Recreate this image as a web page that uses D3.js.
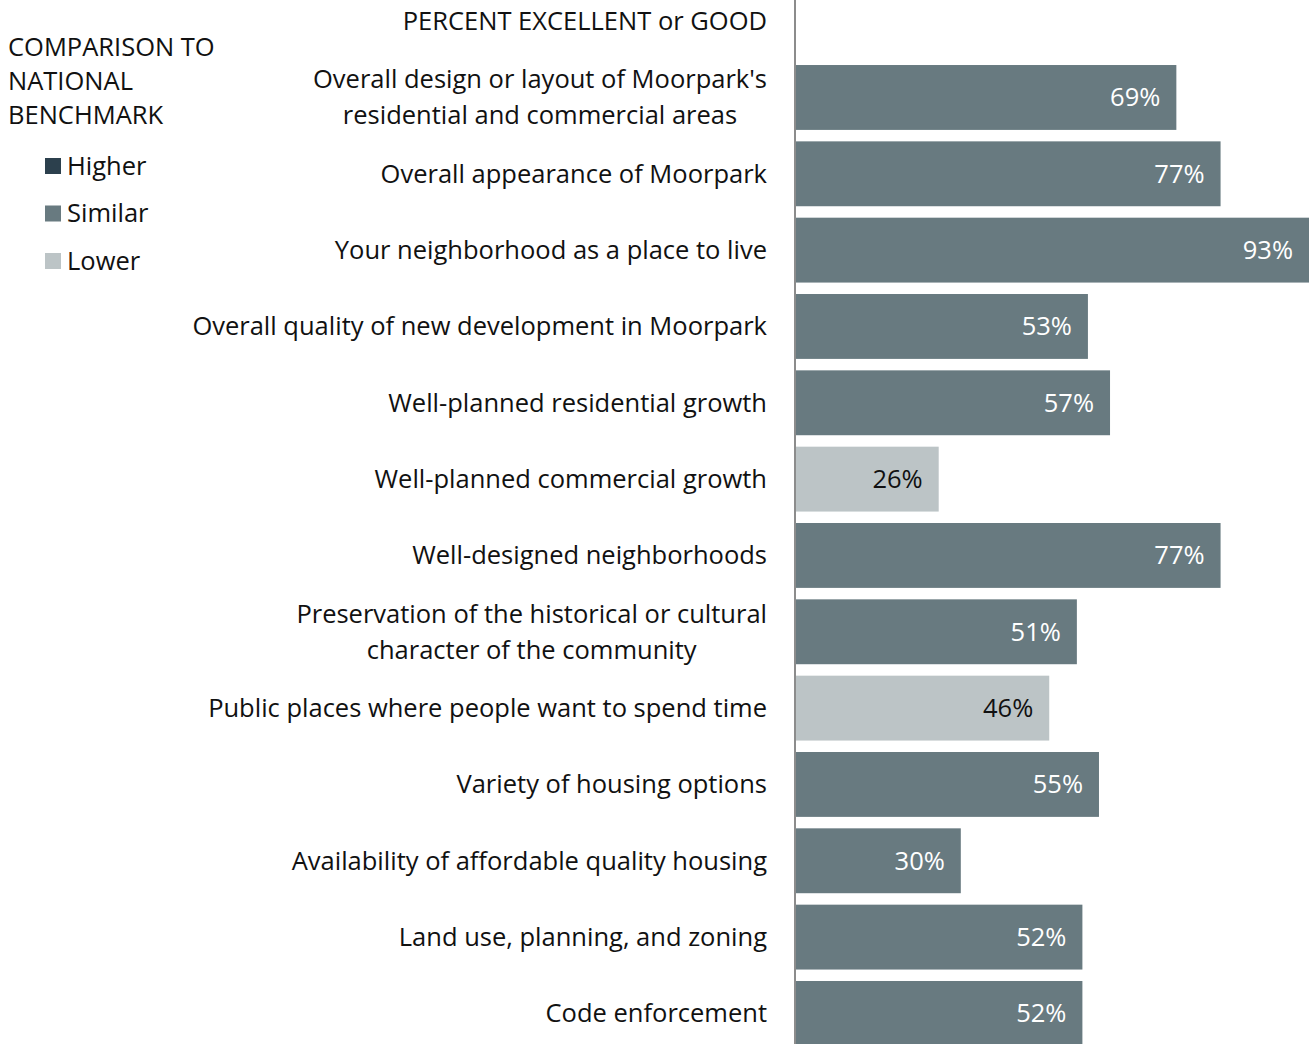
<!DOCTYPE html>
<html>
<head>
<meta charset="utf-8">
<script src="https://cdn.jsdelivr.net/npm/d3@7"></script>
<style>
  body { margin: 0; background: #fff; }
  svg text { font-family: "Open Sans", Lato, sans-serif; }
</style>
</head>
<body>
<svg id="chart" width="1312" height="1044"></svg>
<script>
// chart data
const categories = [
  ["Overall design or layout of Moorpark's", "residential and commercial areas"],
  ["Overall appearance of Moorpark"],
  ["Your neighborhood as a place to live"],
  ["Overall quality of new development in Moorpark"],
  ["Well-planned residential growth"],
  ["Well-planned commercial growth"],
  ["Well-designed neighborhoods"],
  ["Preservation of the historical or cultural", "character of the community"],
  ["Public places where people want to spend time"],
  ["Variety of housing options"],
  ["Availability of affordable quality housing"],
  ["Land use, planning, and zoning"],
  ["Code enforcement"]
];
const values = [69, 77, 93, 53, 57, 26, 77, 51, 46, 55, 30, 52, 52];
const comparison = ["Similar", "Similar", "Similar", "Similar", "Similar", "Lower", "Similar",
                    "Similar", "Lower", "Similar", "Similar", "Similar", "Similar"];
const legendKeys = ["Higher", "Similar", "Lower"];
const legendTitle = ["COMPARISON TO", "NATIONAL", "BENCHMARK"];
const header = "PERCENT EXCELLENT or GOOD";

const colors = { Higher: "#2c404d", Similar: "#687a80", Lower: "#bcc4c6" };
const fontSize = 25.5;

const svg = d3.select('#chart');
const axisX = 795;
const labelRight = 767;

const ids = d3.range(categories.length);

const x = d3.scaleLinear()
    .domain([0, 93])
    .range([axisX, 1309]);

const y = d3.scaleBand()
    .domain(ids)
    .range([59.3, 1051.6])
    .paddingInner(0.15)
    .paddingOuter(0.075);

// bars
svg.append('g')
  .selectAll('rect')
  .data(ids)
  .join('rect')
    .attr('x', x(0))
    .attr('y', i => y(i))
    .attr('width', i => x(values[i]) - x(0))
    .attr('height', y.bandwidth())
    .attr('fill', i => colors[comparison[i]]);

// value labels
svg.append('g')
  .selectAll('text')
  .data(ids)
  .join('text')
    .attr('x', i => x(values[i]) - 16)
    .attr('y', i => y(i) + y.bandwidth() / 2)
    .attr('dy', '0.35em')
    .attr('text-anchor', 'end')
    .attr('font-size', fontSize)
    .attr('fill', i => comparison[i] === 'Lower' ? '#111' : '#fff')
    .text(i => values[i] + '%');

// category labels (multi-line ones are centred as a block, block right aligned)
const lineH = 36;
ids.forEach(i => {
  const lines = categories[i];
  const g = svg.append('g');
  const cy = y(i) + y.bandwidth() / 2;
  const texts = lines.map((l, k) => g.append('text')
      .attr('y', cy + (k - (lines.length - 1) / 2) * lineH)
      .attr('dy', '0.35em')
      .attr('font-size', fontSize)
      .attr('fill', '#111')
      .text(l));
  if (lines.length === 1) {
    texts[0].attr('x', labelRight).attr('text-anchor', 'end');
  } else {
    const w = d3.max(texts, t => t.node().getComputedTextLength());
    texts.forEach(t => t.attr('x', labelRight - w / 2).attr('text-anchor', 'middle'));
  }
});

// axis line
svg.append('line')
    .attr('x1', axisX).attr('x2', axisX)
    .attr('y1', 0).attr('y2', 1044)
    .attr('stroke', '#8c8c8c')
    .attr('stroke-width', 2);

// header
svg.append('text')
    .attr('x', labelRight)
    .attr('y', 21)
    .attr('dy', '0.35em')
    .attr('text-anchor', 'end')
    .attr('font-size', fontSize)
    .attr('fill', '#111')
    .text(header);

// legend
svg.append('g')
  .selectAll('text')
  .data(legendTitle)
  .join('text')
    .attr('x', 8)
    .attr('y', (d, i) => 47 + i * 34)
    .attr('dy', '0.35em')
    .attr('font-size', fontSize)
    .attr('fill', '#111')
    .text(d => d);

const leg = svg.append('g')
  .selectAll('g')
  .data(legendKeys)
  .join('g')
    .attr('transform', (d, i) => `translate(45,${166 + i * 47.5})`);

leg.append('rect')
    .attr('x', 0).attr('y', -8)
    .attr('width', 16).attr('height', 16)
    .attr('fill', d => colors[d]);

leg.append('text')
    .attr('x', 22)
    .attr('dy', '0.35em')
    .attr('font-size', fontSize)
    .attr('fill', '#111')
    .text(d => d);
</script>
</body>
</html>
